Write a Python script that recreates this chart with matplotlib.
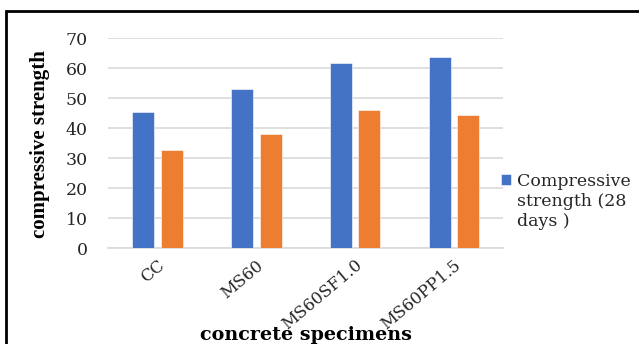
import matplotlib
matplotlib.use('Agg')
import matplotlib.pyplot as plt
from matplotlib.patches import Rectangle
import numpy as np

# compressive strength by concrete specimen
specimens = ['CC', 'MS60', 'MS60SF1.0', 'MS60PP1.5']
strength_28 = [45.3, 53.0, 61.6, 63.6]
strength_other = [32.6, 38.1, 46.1, 44.2]
yticks = [0, 10, 20, 30, 40, 50, 60, 70]
legend_lines = ['Compressive', 'strength (28', 'days )']

blue = '#4472C4'
orange = '#ED7D31'
grid_col = '#D9D9D9'
text_col = '#262626'
serif = 'DejaVu Serif'

fig = plt.figure(figsize=(6.39, 3.44), dpi=100)
ax = fig.add_axes([0.1695, 0.279, 0.618, 0.6105])

x = np.arange(len(specimens))
w = 0.223
ax.bar(x - 0.144, strength_28, w, color=blue, edgecolor='white', linewidth=0.4,
       label=legend_lines[0], zorder=3)
ax.bar(x + 0.143, strength_other, w, color=orange, edgecolor='white', linewidth=0.4,
       zorder=3)

ax.set_xlim(-0.5, len(specimens) - 0.5)
ax.set_ylim(0, 70)
ax.set_yticks(yticks)
ax.yaxis.grid(True, color=grid_col, linewidth=1.2, zorder=0)
ax.set_axisbelow(True)
for s in ['top', 'right', 'left']:
    ax.spines[s].set_visible(False)
ax.spines['bottom'].set_color(grid_col)
ax.spines['bottom'].set_linewidth(1.2)
ax.tick_params(axis='both', length=0)
ax.tick_params(axis='y', pad=15)
ax.set_yticklabels([str(v) for v in yticks], family=serif, fontsize=12.5,
                   color=text_col)

ax.set_xticks(x + 0.05)
ax.set_xticklabels(specimens, rotation=40, ha='right', va='center',
                   rotation_mode='anchor', family=serif, fontsize=12,
                   color=text_col)
ax.tick_params(axis='x', pad=11)

fig.text(0.063, 0.582, 'compressive strength', rotation=90, ha='center', va='center',
         family='Liberation Serif', fontweight='bold', fontsize=15, color='black')
fig.text(0.478, 1 - 340 / 344, 'concrete specimens', ha='center', va='baseline',
         family=serif, fontweight='bold', fontsize=13.8, color='black')

# legend shows the 28-day series only; its label wraps onto extra lines
leg = ax.legend(loc='upper left', bbox_to_anchor=(501 / 639, 1 - 173 / 344),
                bbox_transform=fig.transFigure, frameon=False, borderpad=0,
                borderaxespad=0, handlelength=0.6, handleheight=0.6,
                handletextpad=0.3, prop={'family': serif, 'size': 12.5},
                labelcolor=text_col)
fig.canvas.draw()
tb = leg.get_texts()[0].get_window_extent()
fx0 = tb.x0 / fig.bbox.width
base_y = tb.y0 / fig.bbox.height
for i, line in enumerate(legend_lines[1:], start=1):
    fig.text(fx0, base_y - i * 20 / 344, line, ha='left', va='bottom',
             family=serif, fontsize=12.5, color=text_col)

# outer frame around the chart
fig.patches.append(Rectangle((6 / 639, -0.1), 1.2, 1.1 - 11 / 344, fill=False,
                             edgecolor='black', linewidth=2,
                             transform=fig.transFigure, figure=fig))

fig.savefig('out.png', dpi=100)
